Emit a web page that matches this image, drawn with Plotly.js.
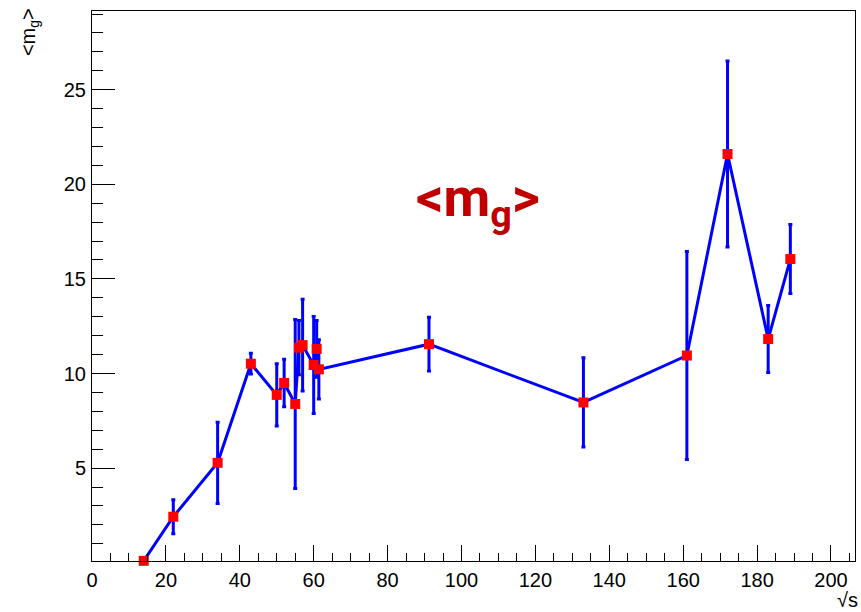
<!DOCTYPE html>
<html>
<head>
<meta charset="utf-8">
<script src="https://cdn.plot.ly/plotly-3.0.1.min.js"></script>
<style>
html,body{margin:0;padding:0;background:#fff;}
#chart{width:861px;height:612px;}
</style>
</head>
<body>
<div id="chart"></div>
<script>
// Centre-of-mass energy sqrt(s) [GeV]
const sqrtS = [14, 22, 34, 43, 50, 52, 55, 56, 57, 60, 60.8, 61.4, 91.2, 133, 161, 172, 183, 189];
// <m_g> values
const mg = [0.1, 2.43, 5.28, 10.52, 8.87, 9.5, 8.39, 11.37, 11.5, 10.45, 11.3, 10.22, 11.55, 8.47, 10.95, 21.6, 11.82, 16.05];
// symmetric errors on <m_g>
const mgErr = [0, 0.9, 2.15, 0.55, 1.64, 1.26, 4.47, 1.43, 2.42, 2.56, 1.5, 1.57, 1.42, 2.36, 5.5, 4.92, 1.77, 1.82];

const xTickVals = [0, 20, 40, 60, 80, 100, 120, 140, 160, 180, 200];
const yTickVals = [5, 10, 15, 20, 25];

const trace = {
  x: sqrtS,
  y: mg,
  type: 'scatter',
  mode: 'lines+markers',
  line: {color: 'rgb(0,0,255)', width: 3},
  marker: {symbol: 'square', size: 10, color: 'rgb(255,0,0)', line: {width: 0}},
  error_y: {type: 'data', array: mgErr, visible: true, color: 'rgb(0,0,255)', thickness: 3, width: 2},
  cliponaxis: false,
  hoverinfo: 'x+y'
};

const tickFont = {family: 'Liberation Sans, Arial, Helvetica, sans-serif', size: 20, color: '#000'};

const layout = {
  width: 861,
  height: 612,
  margin: {l: 92, r: 6, t: 11, b: 51, pad: 0},
  paper_bgcolor: '#fff',
  plot_bgcolor: '#fff',
  showlegend: false,
  xaxis: {
    range: [0, 206.5],
    tickmode: 'array',
    tickvals: xTickVals,
    ticktext: xTickVals.map(String),
    ticks: 'inside',
    ticklen: 16,
    tickwidth: 1,
    tickcolor: '#000',
    minor: {dtick: 5, tick0: 0, ticks: 'inside', ticklen: 8, tickwidth: 1, tickcolor: '#000', showgrid: false},
    showline: true,
    linecolor: '#000',
    linewidth: 1,
    mirror: true,
    showgrid: false,
    zeroline: false,
    tickfont: tickFont,
    ticklabelstandoff: 1
  },
  yaxis: {
    range: [0.09, 29.16],
    tickmode: 'array',
    tickvals: yTickVals,
    ticktext: yTickVals.map(String),
    ticks: 'inside',
    ticklen: 23,
    tickwidth: 1,
    tickcolor: '#000',
    minor: {dtick: 1, tick0: 0, ticks: 'inside', ticklen: 11, tickwidth: 1, tickcolor: '#000', showgrid: false},
    showline: true,
    linecolor: '#000',
    linewidth: 1,
    mirror: true,
    showgrid: false,
    zeroline: false,
    tickfont: tickFont,
    ticklabelstandoff: 1
  },
  annotations: [
    {
      text: '<b>&lt;m<sub>g</sub>&gt;</b>',
      xref: 'paper', yref: 'paper',
      x: 0.506, y: 0.655,
      xanchor: 'center', yanchor: 'middle',
      showarrow: false,
      font: {family: 'Roboto, sans-serif', size: 54, color: '#c00000'}
    },
    {
      text: '&lt;m<sub>g</sub>&gt;',
      xref: 'paper', yref: 'paper',
      x: -0.081, y: 0.962,
      xanchor: 'center', yanchor: 'middle',
      textangle: -90,
      showarrow: false,
      font: {family: 'Liberation Sans, Arial, sans-serif', size: 20, color: '#000'}
    },
    {
      text: '√s',
      xref: 'paper', yref: 'paper',
      x: 0.99, y: -0.07,
      xanchor: 'center', yanchor: 'middle',
      showarrow: false,
      font: {family: 'Liberation Sans, Arial, sans-serif', size: 20, color: '#000'}
    }
  ]
};

Plotly.newPlot('chart', [trace], layout, {displayModeBar: false, staticPlot: true});
</script>
</body>
</html>
